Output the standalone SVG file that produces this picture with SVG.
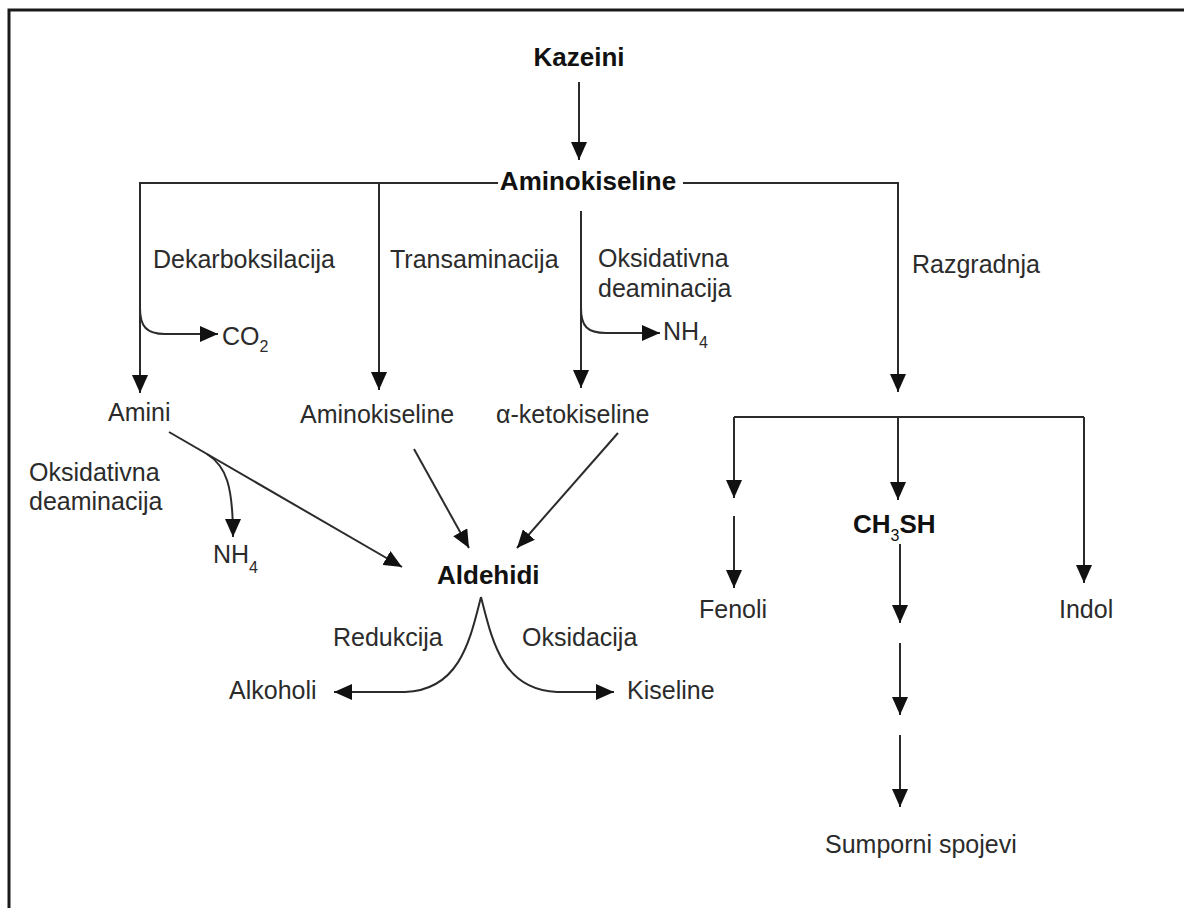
<svg xmlns="http://www.w3.org/2000/svg" width="1184" height="908" viewBox="0 0 1184 908">
<style>
.t{font-family:"Liberation Sans",Arial,sans-serif;font-size:25px;fill:#2b2b2b}
.b{font-family:"Liberation Sans",Arial,sans-serif;font-size:26px;font-weight:bold;fill:#111}
.s{font-size:16px}
.c{fill:none;stroke:#2b2b2b;stroke-width:2}
.a{marker-end:url(#ah)}
</style>
<defs>
<marker id="ah" viewBox="0 0 18 16" refX="18" refY="8" markerWidth="18" markerHeight="16" markerUnits="userSpaceOnUse" orient="auto">
<path d="M0,0 L18,8 L0,16 z" fill="#111"/>
</marker>
</defs>
<rect width="1184" height="908" fill="#fff"/>
<path d="M9,908 V10 H1184" fill="none" stroke="#1a1a1a" stroke-width="3"/>

<g id="connectors">
<path class="c a" d="M579,82 V160"/>
<path class="c a" d="M498,183 H140 V393"/>
<path class="c a" d="M379,183 V390"/>
<path class="c a" d="M683,183 H898 V392"/>
<path class="c a" d="M581,211 V388"/>
<path class="c a" d="M140,308 C140,326 146,334 165,334 L218,334"/>
<path class="c a" d="M581,308 C581,326 587,333 606,333 L660,333"/>
<path class="c" d="M734,417 H1084"/>
<path class="c a" d="M734,417 V498"/>
<path class="c a" d="M898,417 V500"/>
<path class="c a" d="M1084,417 V583"/>
<path class="c a" d="M734,516 V588"/>
<path class="c a" d="M900,544 V623"/>
<path class="c a" d="M900,643 V715"/>
<path class="c a" d="M900,735 V807"/>
<path class="c a" d="M169,432 L402,567"/>
<path class="c a" d="M207,454 C226,466 233,485 233,537"/>
<path class="c a" d="M414,449 L469,548"/>
<path class="c a" d="M618,433 L517,548"/>
<path class="c a" d="M481,597 C470,640 460,690 405,692 L334,692"/>
<path class="c a" d="M481,597 C492,640 502,690 557,692 L614,692"/>
</g>

<g id="kazeini"><text class="b" x="579" y="66" text-anchor="middle">Kazeini</text></g>
<g id="aminokiseline-top"><text class="b" x="588" y="190" text-anchor="middle">Aminokiseline</text></g>
<g id="lbl-dekarboksilacija"><text class="t" x="153" y="268">Dekarboksilacija</text></g>
<g id="lbl-transaminacija"><text class="t" x="390" y="268">Transaminacija</text></g>
<g id="lbl-oksidativna1"><text class="t" x="598" y="267">Oksidativna</text><text class="t" x="598" y="297">deaminacija</text></g>
<g id="lbl-razgradnja"><text class="t" x="912" y="273">Razgradnja</text></g>
<g id="co2"><text class="t" x="222" y="345">CO<tspan class="s" dy="7">2</tspan></text></g>
<g id="nh4-top"><text class="t" x="663" y="340">NH<tspan class="s" dy="8">4</tspan></text></g>
<g id="amini"><text class="t" x="108" y="421">Amini</text></g>
<g id="aminokiseline"><text class="t" x="300" y="423">Aminokiseline</text></g>
<g id="ketokiseline"><text class="t" x="496" y="423">α-ketokiseline</text></g>
<g id="lbl-oksidativna2"><text class="t" x="29" y="481">Oksidativna</text><text class="t" x="29" y="510">deaminacija</text></g>
<g id="nh4-low"><text class="t" x="213" y="563">NH<tspan class="s" dy="10">4</tspan></text></g>
<g id="aldehidi"><text class="b" x="437" y="584">Aldehidi</text></g>
<g id="lbl-redukcija"><text class="t" x="333" y="646">Redukcija</text></g>
<g id="lbl-oksidacija"><text class="t" x="522" y="646">Oksidacija</text></g>
<g id="alkoholi"><text class="t" x="229" y="699">Alkoholi</text></g>
<g id="kiseline"><text class="t" x="627" y="699">Kiseline</text></g>
<g id="fenoli"><text class="t" x="699" y="618">Fenoli</text></g>
<g id="ch3sh"><text class="b" x="853" y="533">CH<tspan class="s" font-weight="normal" dy="8">3</tspan><tspan dy="-8">SH</tspan></text></g>
<g id="indol"><text class="t" x="1059" y="618">Indol</text></g>
<g id="sumporni"><text class="t" x="825" y="853">Sumporni spojevi</text></g>
</svg>
